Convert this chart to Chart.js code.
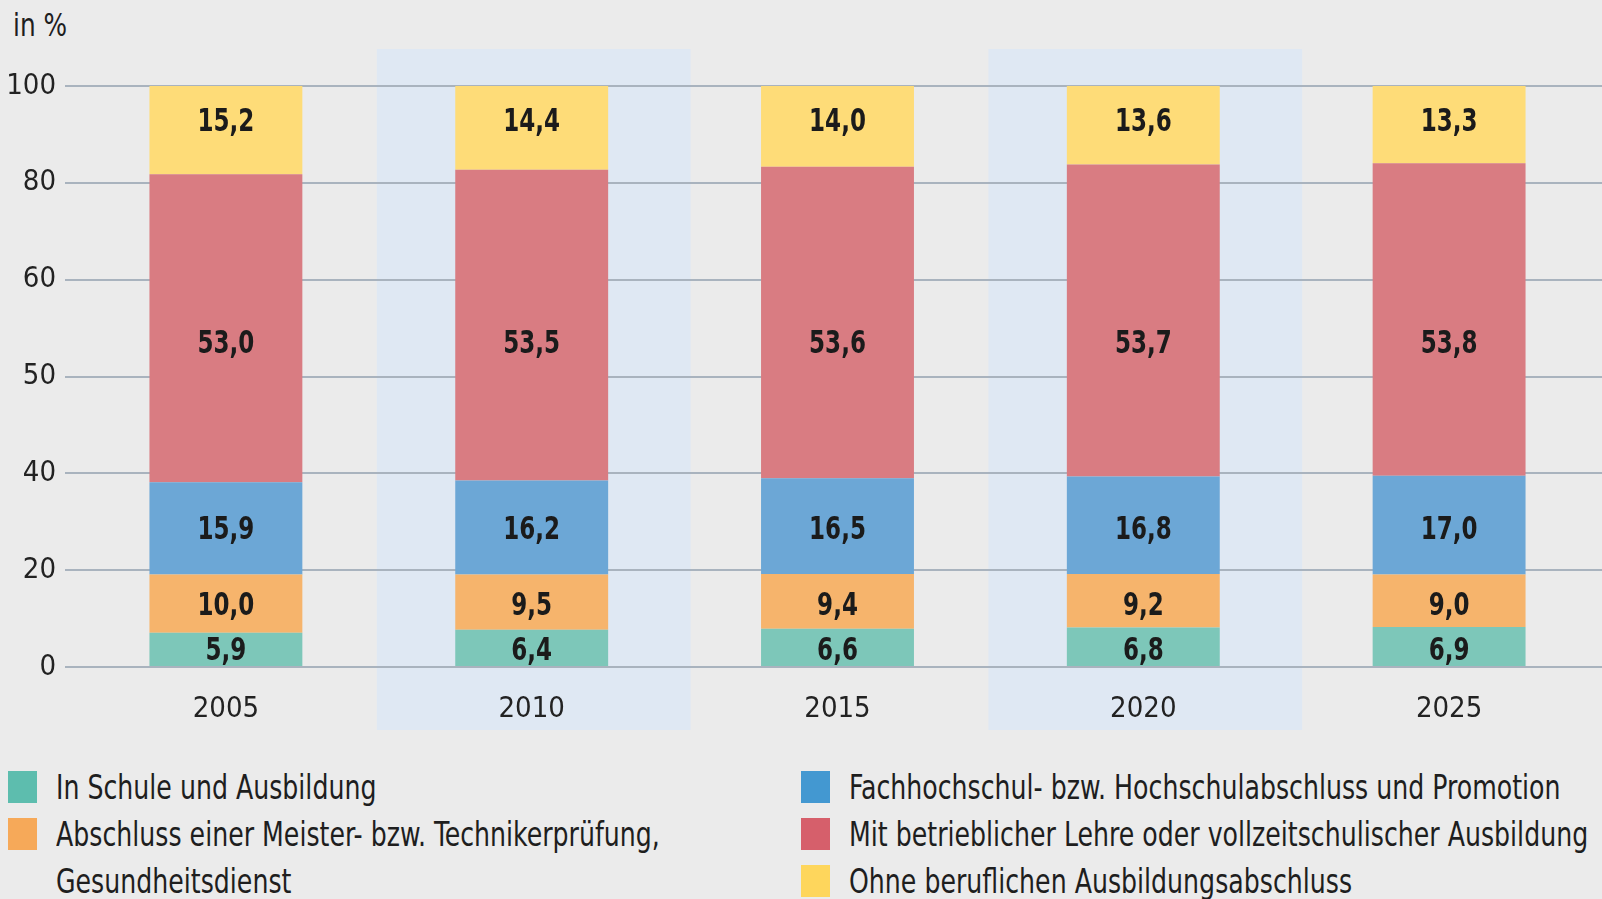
<!DOCTYPE html>
<html lang="de">
<head>
<meta charset="utf-8">
<title>Bevölkerung nach Ausbildungsabschluss</title>
<script src="https://cdn.jsdelivr.net/npm/chart.js@4/dist/chart.umd.min.js"></script>
<style>
  html, body { margin: 0; padding: 0; background: #ebebeb; overflow: hidden; }
  body { width: 1602px; height: 899px; position: relative;
         font-family: 'DejaVu Sans Condensed', sans-serif; color: #1e1e1e; }
  #unit { position: absolute; left: 13px; top: 6px; font-size: 32px;
          transform: scaleX(0.86); transform-origin: left top; }
  #chart { position: absolute; left: 0; top: 0; }
  .legend { position: absolute; font-size: 33px; line-height: 47px; white-space: nowrap; }
  .legend .row { position: relative; height: 47px; }
  .legend .sw { position: absolute; left: 0; top: 7px; width: 29px; height: 32px; }
  .legend .tx { position: absolute; left: 48px; top: 0; transform: scaleX(0.85); transform-origin: left top; }
</style>
</head>
<body>
<div id="unit">in %</div>
<canvas id="chart" width="1602" height="750"></canvas>
<div class="legend" id="legend-left" style="left:8px; top:764px;"></div>
<div class="legend" id="legend-right" style="left:801px; top:764px;"></div>

<script>
const years = ['2005', '2010', '2015', '2020', '2025'];
const yTickLabels = ['0', '20', '40', '50', '60', '80', '100'];

const seriesNames = [
  'In Schule und Ausbildung',
  'Abschluss einer Meister- bzw. Technikerprüfung, Gesundheitsdienst',
  'Fachhochschul- bzw. Hochschulabschluss und Promotion',
  'Mit betrieblicher Lehre oder vollzeitschulischer Ausbildung',
  'Ohne beruflichen Ausbildungsabschluss'
];

const schule = [5.9, 6.4, 6.6, 6.8, 6.9];
const meister = [10.0, 9.5, 9.4, 9.2, 9.0];
const hochschule = [15.9, 16.2, 16.5, 16.8, 17.0];
const lehre = [53.0, 53.5, 53.6, 53.7, 53.8];
const ohne = [15.2, 14.4, 14.0, 13.6, 13.3];

const barColors = ['#7dc7b9', '#f6b46c', '#6ca7d6', '#d97c82', '#fedc78'];
const legendColors = ['#5dbdae', '#f6a959', '#4398d1', '#d65f6b', '#fed65c'];
const labelShift = [4, 5, 4, 22, -4];

const FONT = "'DejaVu Sans Condensed', sans-serif";

// Hintergrundstreifen hinter 2010 und 2020
const bandPlugin = {
  id: 'bands',
  beforeDraw(chart) {
    const { ctx, chartArea, scales } = chart;
    const step = scales.x.getPixelForValue(1) - scales.x.getPixelForValue(0);
    ctx.save();
    ctx.fillStyle = '#dfe8f3';
    [1, 3].forEach(i => {
      const cx = scales.x.getPixelForValue(i) + 2;
      const w = step + 8;
      ctx.fillRect(cx - w / 2, chartArea.top - 37, w, chartArea.bottom - chartArea.top + 100);
    });
    ctx.restore();
  }
};

// Werte in die Balken schreiben (je Reihe auf gleicher Höhe)
const valuePlugin = {
  id: 'values',
  afterDatasetsDraw(chart) {
    const { ctx } = chart;
    ctx.save();
    ctx.font = 'bold 32px ' + FONT;
    ctx.fillStyle = '#1b1b1b';
    ctx.textAlign = 'center';
    ctx.textBaseline = 'middle';
    chart.data.datasets.forEach((ds, di) => {
      const bars = chart.getDatasetMeta(di).data;
      const midY = bars.reduce((s, b) => s + (b.y + b.base) / 2, 0) / bars.length + labelShift[di];
      bars.forEach((bar, i) => {
        ctx.save();
        ctx.translate(bar.x, midY);
        ctx.scale(0.8, 1);
        ctx.fillText(ds.data[i].toFixed(1).replace('.', ','), 0, 0);
        ctx.restore();
      });
    });
    ctx.restore();
  }
};

const seriesData = [schule, meister, hochschule, lehre, ohne];

const ctx = document.getElementById('chart').getContext('2d');
new Chart(ctx, {
  type: 'bar',
  data: {
    labels: years,
    datasets: seriesData.map((d, i) => ({
      label: seriesNames[i],
      data: d,
      backgroundColor: barColors[i],
      borderWidth: 0,
      barPercentage: 0.5,
      categoryPercentage: 1
    }))
  },
  options: {
    responsive: false,
    animation: false,
    devicePixelRatio: 1,
    layout: { padding: { top: 86, left: 0, right: 0, bottom: 0 } },
    plugins: { legend: { display: false }, tooltip: { enabled: false } },
    scales: {
      x: {
        stacked: true,
        grid: { display: false, drawTicks: false },
        border: { display: false },
        ticks: { color: '#222', padding: 25, font: { family: FONT, size: 29 } },
        afterFit(scale) { scale.height = 83; }
      },
      y: {
        stacked: true,
        min: 0,
        max: 100,
        afterBuildTicks(scale) {
          scale.ticks = yTickLabels.map((_, i) => ({ value: i * 100 / (yTickLabels.length - 1) }));
        },
        ticks: {
          color: '#222',
          padding: 9,
          font: { family: FONT, size: 29 },
          callback: (v, i) => yTickLabels[i]
        },
        grid: { color: '#a9b3be', lineWidth: 2, tickLength: 8 },
        border: { display: false },
        afterFit(scale) { scale.width = 73; }
      }
    }
  },
  plugins: [bandPlugin, valuePlugin]
});

// Legende
function legendRow(i, text) {
  return `<div class="row"><span class="sw" style="background:${legendColors[i]}"></span><span class="tx">${text}</span></div>`;
}
document.getElementById('legend-left').innerHTML =
  legendRow(0, seriesNames[0]) +
  legendRow(1, 'Abschluss einer Meister- bzw. Technikerprüfung,') +
  '<div class="row"><span class="tx">Gesundheitsdienst</span></div>';
document.getElementById('legend-right').innerHTML =
  legendRow(2, seriesNames[2]) + legendRow(3, seriesNames[3]) + legendRow(4, seriesNames[4]);
</script>
</body>
</html>
